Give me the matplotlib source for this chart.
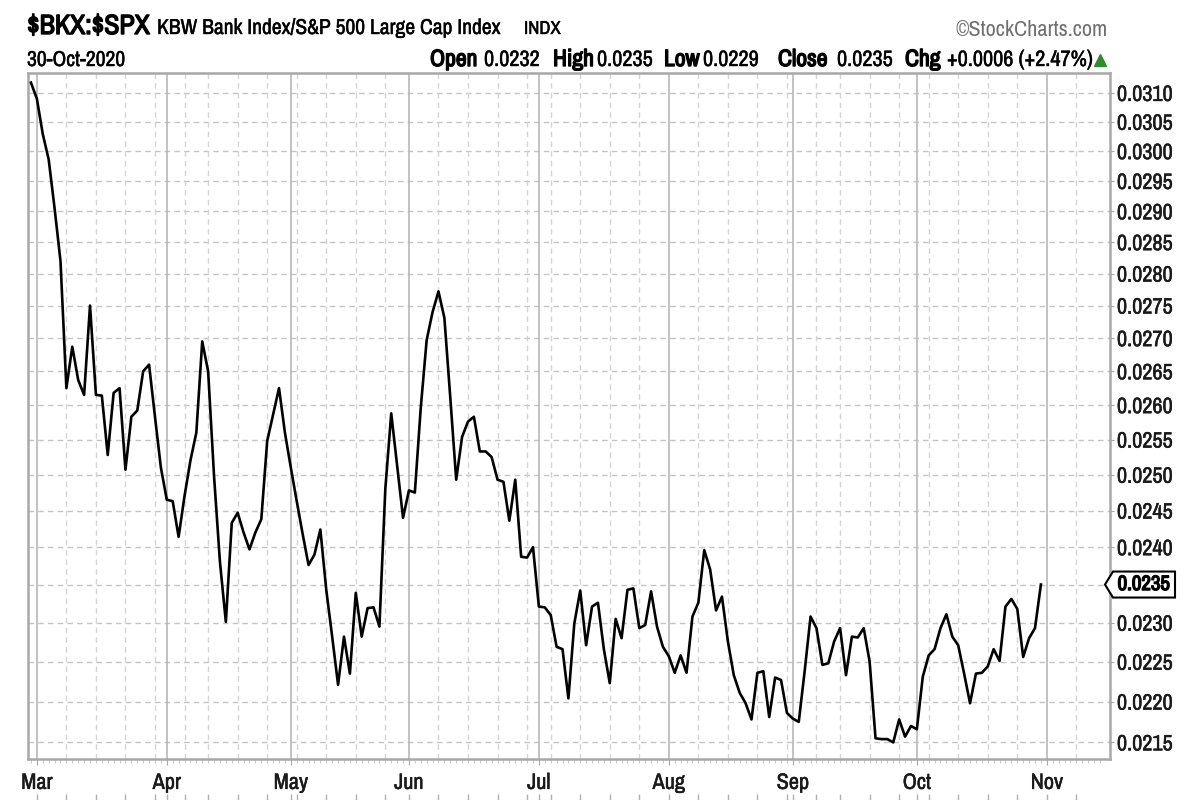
import numpy as np
import pandas as pd
import matplotlib
matplotlib.use("Agg")
import matplotlib.pyplot as plt
import matplotlib.patheffects as pe
from matplotlib import font_manager
from matplotlib.ticker import FixedLocator, NullLocator, FixedFormatter
from matplotlib.patches import Polygon

# daily ratio $BKX/$SPX, 28-Feb-2020 .. 30-Oct-2020
ratio = [
    0.03118, 0.03090, 0.03029, 0.02986, 0.02905, 0.02820, 0.02625, 0.02687, 0.02637, 0.02615,
    0.02750, 0.02615, 0.02614, 0.02528, 0.02618, 0.02625, 0.02507, 0.02583, 0.02592, 0.02650,
    0.02660, 0.02583, 0.02510, 0.02465, 0.02463, 0.02414, 0.02470, 0.02520, 0.02560, 0.02695,
    0.02650, 0.02498, 0.02380, 0.02301, 0.02433, 0.02447, 0.02420, 0.02397, 0.02420, 0.02438,
    0.02548, 0.02586, 0.02625, 0.02560, 0.02510, 0.02463, 0.02418, 0.02376, 0.02390, 0.02424,
    0.02343, 0.02282, 0.02221, 0.02282, 0.02235, 0.02339, 0.02282, 0.02319, 0.02320, 0.02295,
    0.02480, 0.02588, 0.02513, 0.02440, 0.02478, 0.02475, 0.02596, 0.02697, 0.02740, 0.02772,
    0.02731, 0.02611, 0.02493, 0.02554, 0.02576, 0.02583, 0.02533, 0.02533, 0.02525, 0.02493,
    0.02490, 0.02436, 0.02493, 0.02387, 0.02386, 0.02400, 0.02321, 0.02320, 0.02310, 0.02269,
    0.02266, 0.02204, 0.02299, 0.02342, 0.02271, 0.02321, 0.02326, 0.02266, 0.02223, 0.02305,
    0.02280, 0.02343, 0.02345, 0.02293, 0.02297, 0.02341, 0.02295, 0.02269, 0.02257, 0.02236,
    0.02258, 0.02236, 0.02308, 0.02326, 0.02396, 0.02370, 0.02316, 0.02334, 0.02276, 0.02233,
    0.02211, 0.02198, 0.02178, 0.02236, 0.02238, 0.02181, 0.02230, 0.02227, 0.02186, 0.02179,
    0.02175, 0.02238, 0.02308, 0.02293, 0.02246, 0.02248, 0.02276, 0.02293, 0.02233, 0.02282,
    0.02281, 0.02293, 0.02250, 0.02155, 0.02154, 0.02154, 0.02150, 0.02178, 0.02157, 0.02170,
    0.02166, 0.02231, 0.02258, 0.02266, 0.02293, 0.02311, 0.02282, 0.02271, 0.02235, 0.02198,
    0.02235, 0.02236, 0.02244, 0.02266, 0.02251, 0.02321, 0.02331, 0.02318, 0.02256, 0.02280,
    0.02293, 0.02350,
]
market_holidays = ["2020-04-10", "2020-05-25", "2020-07-03", "2020-09-07"]
yticks = [0.0215, 0.0220, 0.0225, 0.0230, 0.0235, 0.0240, 0.0245, 0.0250, 0.0255, 0.0260,
          0.0265, 0.0270, 0.0275, 0.0280, 0.0285, 0.0290, 0.0295, 0.0300, 0.0305, 0.0310]
last_value = 0.0235
quote_labels = ["Open", "High", "Low", "Close", "Chg"]
quote_values = ["0.0232", "0.0235", "0.0229", "0.0235", "+0.0006 (+2.47%)"]

# fonts: StockCharts uses a narrow sans; look for one that is installed
fonts = font_manager.fontManager.ttflist
narrow = next((f.name for f in fonts if "narrow" in f.name.lower()), None)
scale = 1.0 if narrow else 0.82
plt.rcParams["font.family"] = [narrow or "DejaVu Sans", "DejaVu Sans"]

# heavy text: bold weight plus a thin stroke (works even without a bold face)
BOLD = dict(fontweight="bold", path_effects=[pe.withStroke(linewidth=1.0, foreground="black")])
SEMI = [pe.withStroke(linewidth=0.35, foreground="#1a1a1a")]

# trading calendar (x axis is trading-day index, no gaps)
days = pd.bdate_range("2020-02-28", "2020-11-13")
days = days[~days.isin(pd.to_datetime(market_holidays))]
x = np.arange(len(ratio))

month_idx = [i for i in range(1, len(days)) if days[i].month != days[i - 1].month]
week_idx = [i for i in range(1, len(days)) if days[i].weekday() < days[i - 1].weekday()]
week_idx = [i for i in week_idx if i not in month_idx]

fig = plt.figure(figsize=(12, 8), dpi=100)
ax = fig.add_axes([28 / 1200, 1 - 759 / 800, 1082 / 1200, 686 / 800])

for v in yticks:
    ax.axhline(v, color="#c4c4c4", lw=1, ls=(0, (4, 3)), zorder=1)
for i in week_idx:
    ax.axvline(i, color="#d4d4d4", lw=1, ls=(0, (4, 3)), zorder=1)
for i in month_idx:
    ax.axvline(i, color="#b8b8b8", lw=1.2, zorder=1)

ax.plot(x, ratio, color="black", lw=1.9, zorder=3)

ax.set_yscale("log")
ax.set_ylim(0.02130, 0.03135)
ax.set_xlim(-0.5, 182.7)

ax.yaxis.set_major_locator(FixedLocator(yticks))
ax.yaxis.set_minor_locator(NullLocator())
ax.yaxis.set_major_formatter(FixedFormatter(["" if abs(v - last_value) < 1e-9 else f"{v:.4f}" for v in yticks]))
ax.yaxis.tick_right()
ax.tick_params(axis="y", length=3, color="#a8a8a8", pad=2, labelsize=16 * scale, labelcolor="#1a1a1a")

ax.xaxis.set_major_locator(FixedLocator(month_idx))
ax.xaxis.set_major_formatter(FixedFormatter([days[i].strftime("%b") for i in month_idx]))
ax.xaxis.set_minor_locator(FixedLocator(range(len(days))))
ax.tick_params(axis="x", which="major", length=4, color="#a8a8a8", pad=6, labelsize=16 * scale,
               labelcolor="#1a1a1a")
ax.tick_params(axis="x", which="minor", length=3, color="#c0c0c0")
for lbl in ax.get_xticklabels() + ax.get_yticklabels():
    lbl.set_path_effects(SEMI)

for s in ax.spines.values():
    s.set_color("#a8a8a8")
    s.set_linewidth(1.8)

# little week marks under the month labels
marks = sorted(month_idx + week_idx)
ax.plot(marks, [-0.055] * len(marks), ls="none", marker="|", ms=4, color="#b0b0b0",
        transform=ax.get_xaxis_transform(), clip_on=False)

fig.canvas.draw()
to_fig = fig.transFigure.inverted()


def px(a, b):
    return to_fig.transform((a, b))


def put(xp, yp, s, **kw):
    # xp, yp in pixels from top-left of the picture
    return fig.text(xp / 1200, 1 - yp / 800, s, va="baseline", **kw)


# last value tag on the right axis
yc = ax.transData.transform((0, last_value))[1]
pts = [px(1105, yc), px(1113, yc + 13), px(1175, yc + 13), px(1175, yc - 13), px(1113, yc - 13)]
fig.patches.append(Polygon(pts, closed=True, fc="white", ec="black", lw=1.5, transform=fig.transFigure))
tx, ty = px(1144, yc)
fig.text(tx, ty, f"{last_value:.4f}", ha="center", va="center", fontsize=15 * scale, **BOLD)

# header, line 1
put(27, 34, r"\$BKX:\$SPX", fontsize=20 * scale, **BOLD)
put(157, 34, "KBW Bank Index/S&P 500 Large Cap Index", fontsize=15.5 * scale, path_effects=SEMI)
put(524, 34, "INDX", fontsize=13.5 * scale, path_effects=SEMI)
put(1108, 36, "\u00a9StockCharts.com", fontsize=16 * scale, color="#707070", ha="right")

# header, line 2
put(27, 66, "30-Oct-2020", fontsize=15.5 * scale, path_effects=SEMI)
label_x = [430, 553, 664, 778, 905]
value_x = [484, 597, 703, 837, 947]
for lab, val, lx, vx in zip(quote_labels, quote_values, label_x, value_x):
    put(lx, 66, lab, fontsize=17 * scale, **BOLD)
    put(vx, 66, val, fontsize=16 * scale, path_effects=SEMI)
fig.add_artist(plt.Line2D([1100 / 1200], [1 - 60 / 800], marker="^", ms=8, color="#2e8b2e",
                          ls="none", transform=fig.transFigure))

fig.savefig("out.png", dpi=100)
